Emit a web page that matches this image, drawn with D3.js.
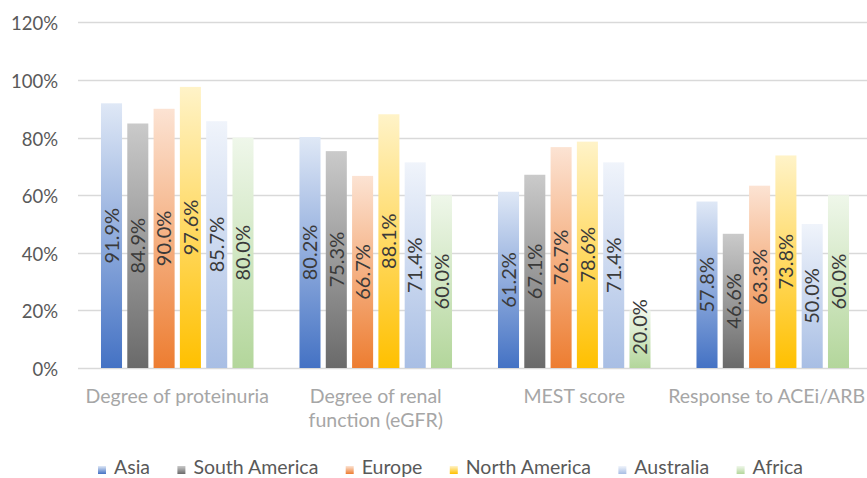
<!DOCTYPE html>
<html>
<head>
<meta charset="utf-8">
<script src="https://cdn.jsdelivr.net/npm/d3@7"></script>
<style>
  html, body { margin: 0; padding: 0; background: #fff; overflow: hidden; }
  svg { display: block; font-family: Lato, "Noto Sans", sans-serif; }
</style>
</head>
<body>
<svg id="chart" width="867" height="478"></svg>
<script>
// Categories (x groups) and series (regions)
const categories = [
  ["Degree of proteinuria"],
  ["Degree of renal", "function (eGFR)"],
  ["MEST score"],
  ["Response to ACEi/ARB"]
];
const seriesNames = ["Asia", "South America", "Europe", "North America", "Australia", "Africa"];

// Percent values per series, one entry per category
const asia         = [91.9, 80.2, 61.2, 57.8];
const southAmerica = [84.9, 75.3, 67.1, 46.6];
const europe       = [90.0, 66.7, 76.7, 63.3];
const northAmerica = [97.6, 88.1, 78.6, 73.8];
const australia    = [85.7, 71.4, 71.4, 50.0];
const africa       = [80.0, 60.0, 20.0, 60.0];

const yTicks = [0, 20, 40, 60, 80, 100, 120];

// Gradient colours per series: [top, bottom]
const seriesColors = [
  ["#dfe8f6", "#4472c4"],
  ["#cacaca", "#6a6a6a"],
  ["#fce3d3", "#ed7d31"],
  ["#fff3c8", "#ffc000"],
  ["#f0f4fb", "#a8bee4"],
  ["#eff7ea", "#b3d69b"]
];

const allSeries = [asia, southAmerica, europe, northAmerica, australia, africa];
const catKeys = categories.map(c => c.join(" "));

const W = 867;
const svg = d3.select("#chart");
const plot = { left: 78, right: 872, top: 22.4, bottom: 368 };

const x0 = d3.scaleBand().domain(catKeys).range([plot.left, plot.right]).paddingInner(0).paddingOuter(0);
const x1 = d3.scaleBand().domain(seriesNames).range([0, x0.bandwidth()]).paddingInner(0.2).paddingOuter(0.874);
const y = d3.scaleLinear().domain([0, 120]).range([plot.bottom, plot.top]);

// Vertical gradients for each series
const defs = svg.append("defs");
seriesNames.forEach((name, i) => {
  const g = defs.append("linearGradient")
    .attr("id", "grad" + i)
    .attr("x1", 0).attr("y1", 0).attr("x2", 0).attr("y2", 1);
  g.append("stop").attr("offset", "0%").attr("stop-color", seriesColors[i][0]);
  g.append("stop").attr("offset", "100%").attr("stop-color", seriesColors[i][1]);
});

// Gridlines
svg.append("g")
  .selectAll("line")
  .data(yTicks)
  .join("line")
  .attr("x1", plot.left).attr("x2", W)
  .attr("y1", d => Math.round(y(d)) + 0.5).attr("y2", d => Math.round(y(d)) + 0.5)
  .attr("stroke", "#d9d9d9").attr("stroke-width", 1.3);

// Y axis labels
const yAxis = d3.axisLeft(y).tickValues(yTicks).tickFormat(d => d + "%").tickSize(0).tickPadding(0);
const yG = svg.append("g").attr("transform", `translate(${plot.left - 20},0)`).call(yAxis);
yG.select(".domain").remove();
yG.selectAll("text")
  .attr("font-family", "Lato, 'Noto Sans', sans-serif")
  .attr("font-size", 18.5).attr("fill", "#595959").attr("dy", "0.4em");

// Bars
const groups = svg.append("g")
  .selectAll("g")
  .data(catKeys)
  .join("g")
  .attr("transform", d => `translate(${x0(d)},0)`);

groups.each(function(cat, ci) {
  const g = d3.select(this);
  const rows = seriesNames.map((s, si) => ({ s, si, v: allSeries[si][ci] }));
  g.selectAll("rect")
    .data(rows)
    .join("rect")
    .attr("x", d => x1(d.s))
    .attr("y", d => y(d.v))
    .attr("width", x1.bandwidth())
    .attr("height", d => y(0) - y(d.v))
    .attr("fill", d => `url(#grad${d.si})`);

  // Value labels, rotated, centred in each bar
  g.selectAll("text")
    .data(rows)
    .join("text")
    .attr("transform", d => {
      const cx = x1(d.s) + x1.bandwidth() / 2;
      let cy = (y(d.v) + y(0)) / 2;
      cy = Math.min(cy, y(0) - 41);
      return `translate(${cx},${cy}) rotate(-90)`;
    })
    .attr("text-anchor", "middle")
    .attr("dy", "0.36em")
    .attr("font-size", 20)
    .attr("fill", "#3a3a3a")
    .text(d => d.v.toFixed(1) + "%");
});

// Category labels (kept inside the right edge of the canvas)
const catG = svg.append("g");
categories.forEach((lines, ci) => {
  let cx = x0(catKeys[ci]) + x0.bandwidth() / 2;
  const t = catG.append("text")
    .attr("y", 403)
    .attr("text-anchor", "middle")
    .attr("font-size", 19.5)
    .attr("fill", "#a6a6a6");
  const spans = lines.map((ln, li) =>
    t.append("tspan").attr("dy", li === 0 ? 0 : 24).text(ln));
  const maxW = d3.max(spans, s => s.node().getComputedTextLength());
  if (cx + maxW / 2 > W - 2) cx = W - 2 - maxW / 2;
  spans.forEach(s => s.attr("x", cx));
});

// Legend
const legend = svg.append("g");
const items = legend.selectAll("g").data(seriesNames).join("g");
items.append("rect")
  .attr("width", 8).attr("height", 8)
  .attr("y", 466)
  .attr("fill", (d, i) => `url(#grad${i})`);
items.append("text")
  .attr("x", 16).attr("y", 474)
  .attr("font-size", 19.5).attr("fill", "#595959")
  .text(d => d);
const widths = [];
items.each(function() {
  widths.push(16 + d3.select(this).select("text").node().getComputedTextLength());
});
const legendStart = 98, legendEnd = 803;
const gap = (legendEnd - legendStart - d3.sum(widths)) / (widths.length - 1);
let cursor = legendStart;
items.attr("transform", (d, i) => {
  const tx = cursor;
  cursor += widths[i] + gap;
  return `translate(${tx},0)`;
});
</script>
</body>
</html>
